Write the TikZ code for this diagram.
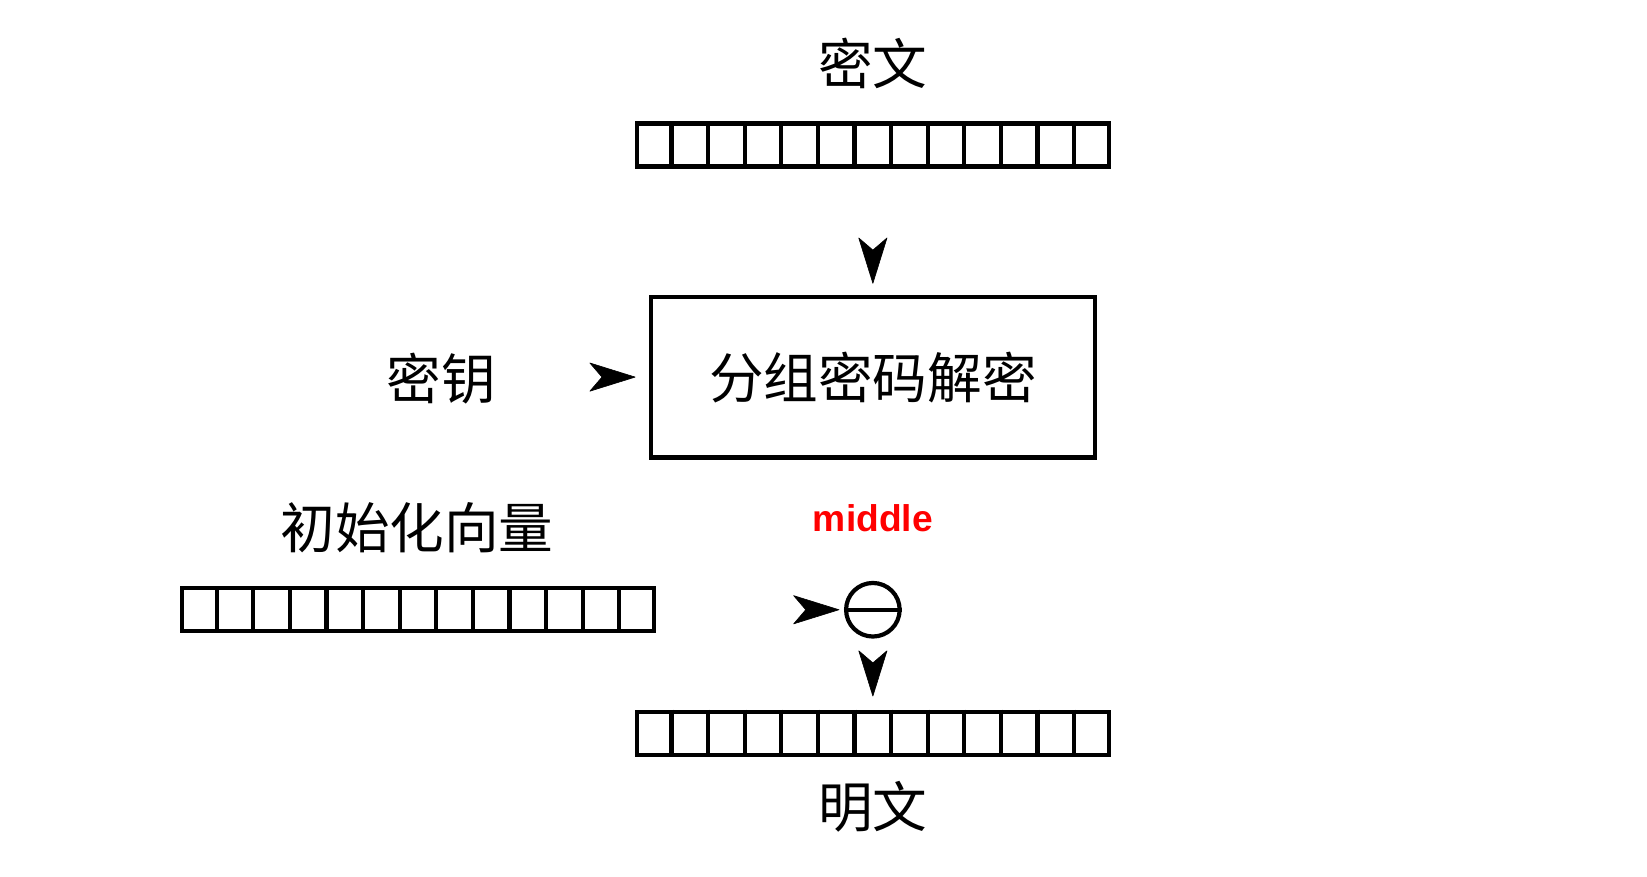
\documentclass[tikz,border=0pt]{standalone}
\usepackage{fontspec}
\newfontfamily\cjk{Noto Sans CJK SC}
\setsansfont{Liberation Sans}
\usetikzlibrary{arrows.meta,calc}
\begin{document}
\begin{tikzpicture}[x=0.5pt,y=-0.5pt,
  reg/.style={draw, line width=2pt, minimum width=224.5pt, minimum height=20.5pt, inner sep=0pt},
  cell/.style={line width=2pt},
  mainbox/.style={draw, line width=2pt, minimum width=211.5pt, minimum height=76.5pt, inner sep=0pt},
  lbl/.style={font=\cjk\fontsize{26}{30}\selectfont, inner sep=0pt},
  redlbl/.style={font=\sffamily\bfseries\fontsize{17.7}{20}\selectfont, text=red, inner sep=0pt},
  xorc/.style={circle, draw, line width=2pt, minimum size=25.5pt, inner sep=0pt},
  arr/.style={draw=white, line width=0.4pt, line cap=butt, -{Stealth[length=22.5pt,width=14pt,inset=6pt,line width=0.3pt,round=false,color=black,fill=black]}}]
\useasboundingbox (0,0) rectangle (1568,834);

% labels
\node[lbl] (lcipher) at (831,60) {密文};
\node[lbl] (lkey) at (420,360) {密钥};
\node[lbl] (liv) at (397,502) {初始化向量};
\node[redlbl] (lmid) at (831,493) {middle};
\node[lbl] (lplain) at (831,768) {明文};

% registers
\node[reg] (cipher) at (831,138) {};
\node[reg] (iv) at (398,580.5) {};
\node[reg] (plain) at (831,698) {};
\foreach \n in {cipher,iv,plain}
  \foreach \i in {1,...,12}
    \draw[cell] ($(\n.north west)!\i/13!(\n.north east)$) -- ($(\n.south west)!\i/13!(\n.south east)$);

% main box
\node[mainbox] (box) at (831,359) {};
\node[lbl] (lbox) at (box.center) {分组密码解密};

% circle
\node[xorc] (xor) at (831,580.5) {};
\draw[cell] (xor.west) -- (xor.east);

% arrows (heads only)
\coordinate (k0) at (562,359);
\draw[arr, shorten <=34pt, shorten >=5.25pt] (cipher.south) -- (box.north);
\draw[arr, shorten >=6.25pt] (k0) -- (box.west);
\draw[arr, shorten <=65.5pt, shorten >=2.25pt] (iv.east) -- (xor.west);
\draw[arr, shorten <=7.5pt, shorten >=6.25pt] (xor.south) -- (plain.north);
\end{tikzpicture}
\end{document}
